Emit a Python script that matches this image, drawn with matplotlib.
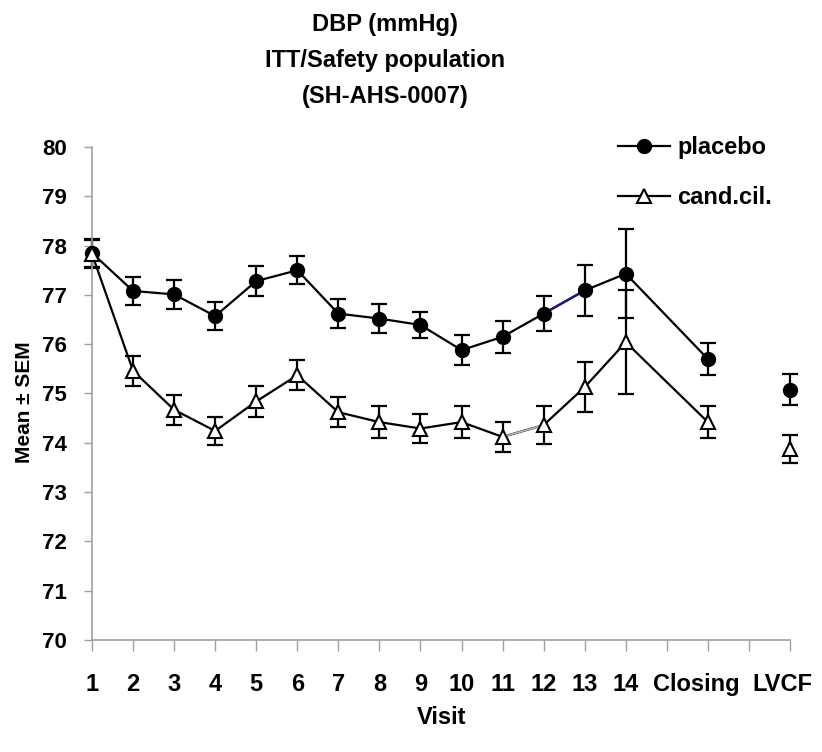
import matplotlib
matplotlib.use("Agg")
import matplotlib.pyplot as plt
from matplotlib.lines import Line2D

plt.rcParams['font.family'] = ['Liberation Sans', 'DejaVu Sans']
plt.rcParams['font.weight'] = 'bold'

# ---- data ----
categories = ['1', '2', '3', '4', '5', '6', '7', '8', '9', '10', '11', '12', '13', '14', 'Closing', 'LVCF']
x_positions = [0, 1, 2, 3, 4, 5, 6, 7, 8, 9, 10, 11, 12, 13, 15, 17]
label_positions = [0, 1, 2, 3, 4, 5, 6, 7, 8, 9, 10, 11, 12, 13, 14.73, 16.82]

placebo_mean = [77.85, 77.08, 77.01, 76.57, 77.28, 77.50, 76.62, 76.52, 76.39, 75.88,
                76.15, 76.62, 77.09, 77.43, 75.70, 75.08]
placebo_sem = [0.28, 0.29, 0.30, 0.28, 0.30, 0.28, 0.30, 0.29, 0.27, 0.30,
               0.32, 0.35, 0.52, 0.90, 0.32, 0.31]
cand_mean = [77.83, 75.46, 74.67, 74.24, 74.84, 75.37, 74.62, 74.42, 74.29, 74.42,
             74.12, 74.36, 75.13, 76.04, 74.42, 73.88]
cand_sem = [0.28, 0.30, 0.30, 0.28, 0.32, 0.30, 0.30, 0.33, 0.30, 0.33,
            0.30, 0.38, 0.51, 1.05, 0.33, 0.28]

fig = plt.figure(figsize=(8.22, 7.52), dpi=100)
ax = fig.add_axes([92/822, 1-640/752, 698/822, 493/752])

# error bars
for m, s in ((placebo_mean, placebo_sem), (cand_mean, cand_sem)):
    ax.errorbar(x_positions, m, yerr=s, fmt='none', ecolor='black',
                elinewidth=1.6, capsize=6, capthick=1.6, clip_on=False, zorder=2)

n_conn = 15  # visits 1-14 and Closing are joined; LVCF stands alone
ax.plot(x_positions[:n_conn], placebo_mean[:n_conn], color='black', lw=1.6, zorder=3)
ax.plot(x_positions[:n_conn], cand_mean[:n_conn], color='black', lw=1.6, zorder=3)
# odd coloured segments as in the original
ax.plot(x_positions[11:13], placebo_mean[11:13], color='#1a1a8c', lw=1.6, zorder=3.5)
ax.plot(x_positions[10:12], cand_mean[10:12], color='#b8b8b8', lw=1.2, zorder=3.5)

ax.plot(x_positions, placebo_mean, linestyle='none', marker='o', markersize=10,
        markerfacecolor='black', markeredgecolor='black', clip_on=False, zorder=4)
ax.plot(x_positions, cand_mean, linestyle='none', marker='^', markersize=10,
        markerfacecolor='white', markeredgecolor='black', markeredgewidth=1.5,
        clip_on=False, zorder=4)

ax.set_xlim(0, 17)
ax.set_ylim(70, 80)
ax.set_yticks(range(70, 81))
ax.tick_params(axis='y', labelsize=16, length=6, width=1, color='#a0a0a0', pad=12)

ax.xaxis.remove_overlapping_locs = False
ax.set_xticks(range(0, 18), minor=True)
ax.set_xticks(label_positions)
ax.set_xticklabels(categories)
ax.tick_params(axis='x', which='minor', length=8, width=1, color='#a0a0a0')
ax.tick_params(axis='x', which='major', labelsize=17, length=0, pad=24)

for sp in ('top', 'right'):
    ax.spines[sp].set_visible(False)
for sp in ('left', 'bottom'):
    ax.spines[sp].set_color('#a0a0a0')
    ax.spines[sp].set_linewidth(1.2)

fig.text(24/822, 1-402/752, 'Mean ± SEM', rotation=90, ha='center', va='center',
         fontsize=15, fontweight='bold')
fig.text(442/822, 1-718/752, 'Visit', ha='center', va='center',
         fontsize=17, fontweight='bold')

titles = ['DBP (mmHg)', 'ITT/Safety population', '(SH-AHS-0007)']
for i, t in enumerate(titles):
    fig.text(385/822, 1-(25 + 36*i)/752, t, ha='center', va='center',
             fontsize=17, fontweight='bold')

handles = [Line2D([], [], color='black', lw=1.6, marker='o', markersize=10,
                  markerfacecolor='black'),
           Line2D([], [], color='black', lw=1.6, marker='^', markersize=10,
                  markerfacecolor='white', markeredgewidth=1.5)]
fig.legend(handles, ['placebo', 'cand.cil.'], loc='upper left',
           bbox_to_anchor=(618/822, 1-136/752), frameon=False, fontsize=17,
           handlelength=2.2, handletextpad=0.3, labelspacing=1.15, borderpad=0,
           borderaxespad=0)

fig.savefig('out.png', dpi=100)
